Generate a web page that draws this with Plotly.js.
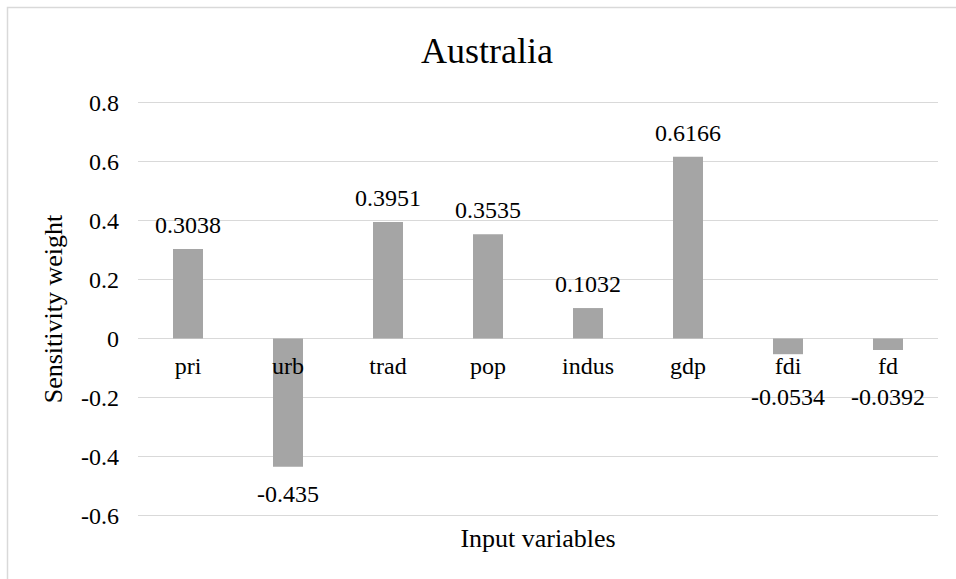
<!DOCTYPE html>
<html>
<head>
<meta charset="utf-8">
<script src="https://cdn.plot.ly/plotly-3.0.1.min.js"></script>
<style>html,body{margin:0;padding:0;background:#fff;}#chart{width:956px;height:579px;}</style>
</head>
<body>
<div id="chart"></div>
<script>
// Data
const categories = ["pri", "urb", "trad", "pop", "indus", "gdp", "fdi", "fd"];
const weights = [0.3038, -0.435, 0.3951, 0.3535, 0.1032, 0.6166, -0.0534, -0.0392];
const labels = ["0.3038", "-0.435", "0.3951", "0.3535", "0.1032", "0.6166", "-0.0534", "-0.0392"];
const yTicks = [-0.6, -0.4, -0.2, 0, 0.2, 0.4, 0.6, 0.8];
const yTickText = ["-0.6", "-0.4", "-0.2", "0", "0.2", "0.4", "0.6", "0.8"];

const FONT = "Liberation Serif";
const W = 956, H = 579;
const margin = {l: 138, r: 18, t: 88, b: 49};
const yRange = [-0.65, 0.85];
const plotH = H - margin.t - margin.b;
const pxPerUnit = plotH / (yRange[1] - yRange[0]);
const zeroPos = (0 - yRange[0]) / (yRange[1] - yRange[0]);

const annotations = categories.map((c, i) => {
  const v = weights[i];
  let shift;
  if (v >= 0) shift = 24;
  else shift = -Math.max(27, 59 - Math.abs(v) * pxPerUnit);
  return {
    x: c, y: v, xref: 'x', yref: 'y', text: labels[i], showarrow: false,
    yshift: shift, yanchor: 'middle', xanchor: 'center',
    font: {family: FONT, size: 24, color: '#000'}
  };
});

const plotW = W - margin.l - margin.r;
const px2x = px => (px - margin.l) / plotW;
const py2y = py => (H - margin.b - py) / plotH;

const data = [{
  type: 'bar', x: categories, y: weights,
  marker: {color: '#a5a5a5'},
  hoverinfo: 'x+y'
}];

const layout = {
  width: W, height: H,
  margin: margin,
  paper_bgcolor: '#ffffff', plot_bgcolor: '#ffffff',
  font: {family: FONT, color: '#000', size: 24},
  showlegend: false,
  bargap: 0.7,
  title: {
    text: 'Australia', font: {family: FONT, size: 36, color: '#000'},
    x: 487 / W, xanchor: 'center', xref: 'container', y: 1 - 50 / H, yanchor: 'middle', yref: 'container'
  },
  xaxis: {
    type: 'category', categoryorder: 'array', categoryarray: categories,
    range: [-0.5, 7.5],
    anchor: 'free', position: zeroPos,
    showline: false, showgrid: false, zeroline: false, ticks: '',
    ticklabelstandoff: 11,
    tickfont: {family: FONT, size: 24, color: '#000'},
    title: {text: 'Input variables', font: {family: FONT, size: 26, color: '#000'}, standoff: 150},
    automargin: false
  },
  yaxis: {
    range: yRange,
    tickvals: yTicks, ticktext: yTickText,
    showgrid: true, gridcolor: '#d9d9d9', gridwidth: 1.5,
    zeroline: true, zerolinecolor: '#d9d9d9', zerolinewidth: 1.5,
    showline: false, ticks: '',
    ticklabelstandoff: 18,
    tickfont: {family: FONT, size: 24, color: '#000'},
    title: {text: 'Sensitivity weight', font: {family: FONT, size: 26, color: '#000'}, standoff: 10},
    automargin: false
  },
  annotations: annotations,
  shapes: [{
    type: 'rect', xref: 'paper', yref: 'paper',
    x0: px2x(7.5), x1: px2x(970), y0: py2y(595), y1: py2y(7.5),
    line: {color: '#d9d9d9', width: 1.5}, fillcolor: 'rgba(0,0,0,0)', layer: 'below'
  }]
};

Plotly.newPlot('chart', data, layout, {displayModeBar: false, staticPlot: true});
</script>
</body>
</html>
